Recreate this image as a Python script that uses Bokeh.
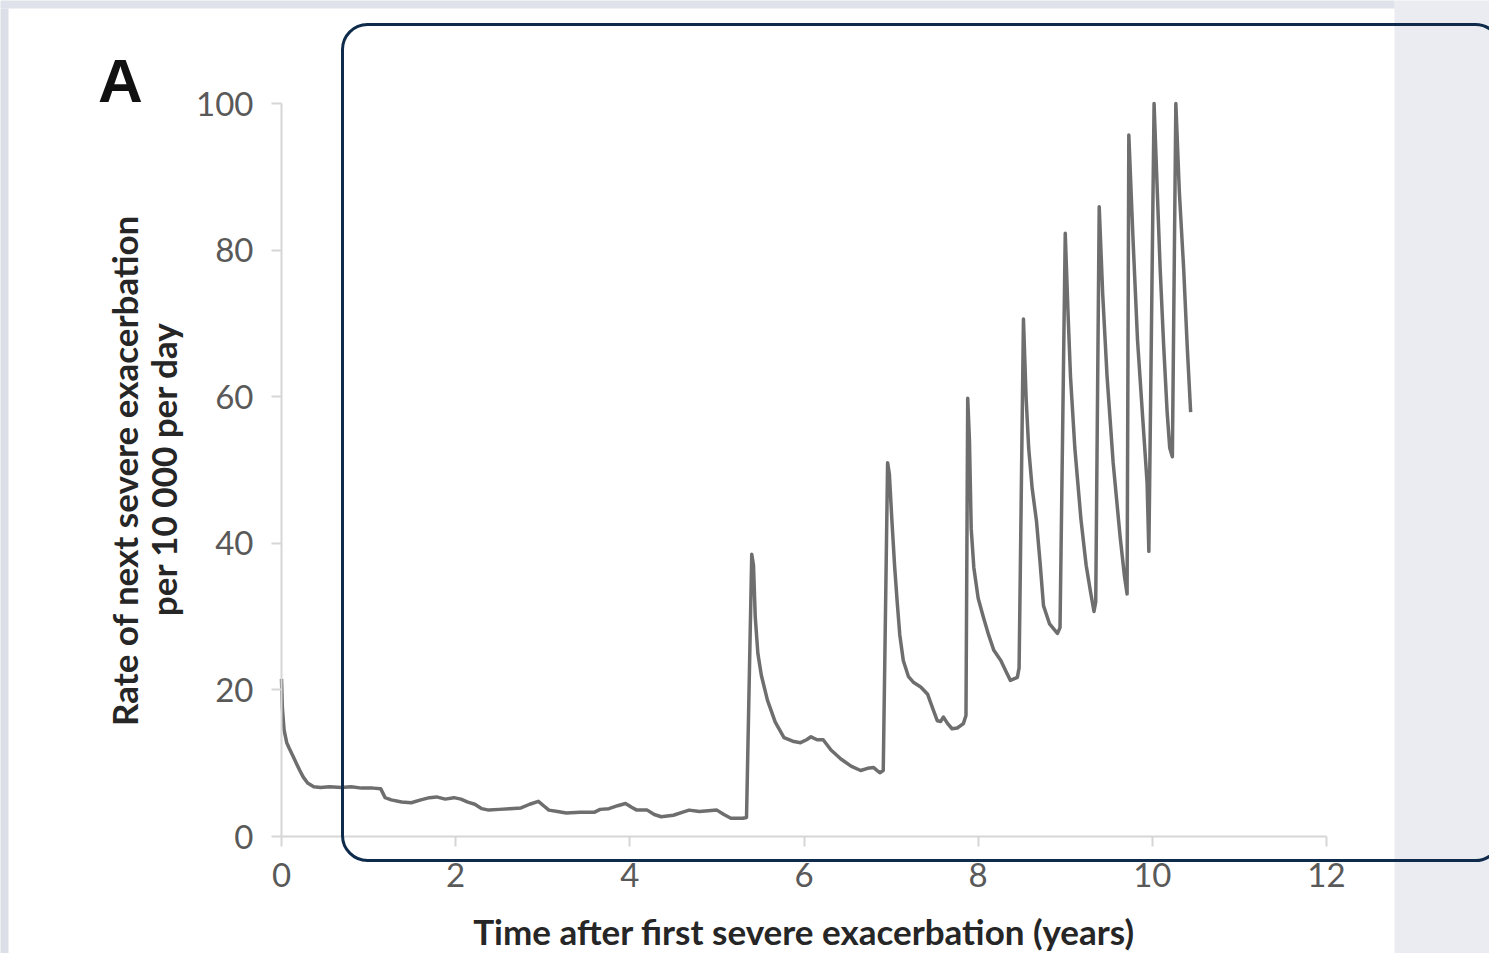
from bokeh.plotting import figure
from bokeh.models import Range1d, FixedTicker, Label, BoxAnnotation
from bokeh.embed import file_html
from bokeh.resources import INLINE
import math

# ---- data ----
years = [
    0.00, 0.01, 0.03, 0.06, 0.09, 0.13, 0.17, 0.21, 0.25, 0.30, 0.37, 0.45, 0.55, 0.69, 0.80, 0.92,
    1.05, 1.14, 1.19, 1.26, 1.38, 1.49, 1.60, 1.70, 1.78, 1.88, 1.98, 2.06, 2.14, 2.22, 2.30, 2.38,
    2.50, 2.62, 2.75, 2.85, 2.95, 3.01, 3.07, 3.17, 3.27, 3.43, 3.59, 3.66, 3.76, 3.86, 3.95, 4.02,
    4.08, 4.20, 4.28, 4.36, 4.50, 4.60, 4.68, 4.80, 4.90, 5.00, 5.08, 5.16, 5.30, 5.34,
    5.40, 5.42, 5.44, 5.47, 5.51, 5.58, 5.67, 5.77, 5.87, 5.96, 6.03, 6.08, 6.15, 6.22, 6.31, 6.42,
    6.54, 6.65, 6.73, 6.80, 6.87, 6.91,
    6.96, 6.98, 7.01, 7.04, 7.07, 7.10, 7.14, 7.20, 7.26, 7.34, 7.42, 7.48, 7.53, 7.57, 7.60, 7.65,
    7.70, 7.76, 7.83, 7.86,
    7.88, 7.90, 7.92, 7.95, 8.00, 8.06, 8.12, 8.18, 8.26, 8.32, 8.37, 8.45, 8.47,
    8.52, 8.55, 8.58, 8.62, 8.67, 8.71, 8.75, 8.82, 8.91, 8.94,
    9.00, 9.03, 9.06, 9.11, 9.18, 9.24, 9.29, 9.33, 9.35,
    9.39, 9.43, 9.48, 9.55, 9.63, 9.68, 9.71,
    9.73, 9.78, 9.83, 9.89, 9.94, 9.96,
    10.02, 10.06, 10.09, 10.13, 10.17, 10.20, 10.23,
    10.27, 10.31, 10.36, 10.40, 10.44,
]
rate = [
    21.5, 17.5, 14.5, 12.8, 12.0, 11.0, 10.0, 9.0, 8.1, 7.3, 6.8, 6.7, 6.8, 6.7, 6.8, 6.6,
    6.6, 6.5, 5.3, 5.0, 4.7, 4.6, 5.0, 5.3, 5.4, 5.1, 5.3, 5.1, 4.7, 4.4, 3.8, 3.6,
    3.7, 3.8, 3.9, 4.4, 4.8, 4.2, 3.6, 3.4, 3.2, 3.3, 3.3, 3.7, 3.8, 4.2, 4.5, 4.0,
    3.6, 3.6, 3.0, 2.7, 2.9, 3.3, 3.6, 3.4, 3.5, 3.6, 3.0, 2.5, 2.5, 2.6,
    38.5, 37.0, 30.0, 25.0, 22.0, 18.6, 15.6, 13.5, 13.0, 12.8, 13.2, 13.6, 13.2, 13.2, 11.8, 10.6,
    9.6, 9.0, 9.3, 9.4, 8.7, 9.0,
    51.0, 49.5, 43.0, 37.0, 32.0, 27.5, 24.0, 21.8, 21.0, 20.4, 19.4, 17.4, 15.8, 15.7, 16.3, 15.4,
    14.7, 14.8, 15.4, 16.5,
    59.8, 54.0, 42.0, 36.7, 32.5, 29.9, 27.5, 25.4, 24.0, 22.5, 21.3, 21.7, 23.0,
    70.6, 60.0, 53.0, 47.5, 43.0, 37.5, 31.5, 29.0, 27.7, 28.5,
    82.3, 72.0, 62.8, 53.0, 43.3, 37.0, 33.4, 30.7, 32.0,
    85.9, 74.0, 62.8, 51.0, 40.9, 35.5, 33.1,
    95.7, 81.0, 67.7, 57.0, 48.2, 38.9,
    100.0, 87.0, 77.4, 67.0, 57.9, 53.0, 51.8,
    100.0, 88.0, 77.4, 67.0, 57.9,
]
x_ticks = [0, 2, 4, 6, 8, 10, 12]
y_ticks = [0, 20, 40, 60, 80, 100]
x_title = "Time after first severe exacerbation (years)"
y_title_1 = "Rate of next severe exacerbation"
y_title_2 = "per 10 000 per day"
panel_letter = "A"

FONT = "Lato"

# canvas geometry (pixels) -> data ranges so that the axes sit where the reference has them
W, H = 1489, 953
AX_L, AX_R, AX_T, AX_B = 281.0, 1326.0, 103.0, 836.0
XMAX, YMAX = 12.0, 100.0
sx = XMAX / (AX_R - AX_L)
sy = YMAX / (AX_B - AX_T)


def dx(px):
    return (px - AX_L) * sx


def dy(py):
    return (AX_B - py) * sy


p = figure(width=W, height=H, output_backend="svg", toolbar_location=None,
           x_range=Range1d(dx(0), dx(W)), y_range=Range1d(dy(H), dy(0)),
           min_border=0, min_border_left=0, min_border_right=0,
           min_border_top=0, min_border_bottom=0)
p.outline_line_color = None
p.grid.visible = False
p.background_fill_color = "white"
p.border_fill_color = "white"

# page background strips
p.add_layout(BoxAnnotation(left=dx(1394), right=dx(W + 50), bottom=dy(H + 50), top=dy(-50),
                           fill_color="#ebecf1", fill_alpha=1, line_alpha=0, level="underlay"))
p.add_layout(BoxAnnotation(left=dx(-50), right=dx(1394), bottom=dy(8), top=dy(-50),
                           fill_color="#dfe2ea", fill_alpha=1, line_alpha=0, level="underlay"))
p.add_layout(BoxAnnotation(left=dx(-50), right=dx(8), bottom=dy(H + 50), top=dy(8),
                           fill_color="#dcdfe8", fill_alpha=1, line_alpha=0, level="underlay"))

for ax, ticks, bnd in ((p.xaxis[0], x_ticks, (0, XMAX)), (p.yaxis[0], y_ticks, (0, YMAX))):
    ax.ticker = FixedTicker(ticks=ticks)
    ax.fixed_location = 0
    ax.bounds = bnd
    ax.axis_line_color = "#d6d6d6"
    ax.axis_line_width = 2
    ax.major_tick_line_color = "#d6d6d6"
    ax.major_tick_line_width = 2
    ax.major_tick_out = 10
    ax.major_tick_in = 0
    ax.minor_tick_line_color = None
    ax.major_label_text_font = FONT
    ax.major_label_text_font_size = "33px"
    ax.major_label_text_color = "#595959"
p.xaxis.major_label_standoff = 16
p.yaxis.major_label_standoff = 18

p.line(years, rate, line_color="#6e6e6e", line_width=3.5, line_join="round")

# titles
TITLE_SIZE = "35px"
p.add_layout(Label(x=dx(803.5), y=dy(930), text=x_title, text_font=FONT, text_font_style="bold",
                   text_font_size=TITLE_SIZE, text_color="#262626",
                   text_align="center", text_baseline="middle"))
p.add_layout(Label(x=dx(123), y=dy(470), text=y_title_1, text_font=FONT, text_font_style="bold",
                   text_font_size=TITLE_SIZE, text_color="#262626", angle=math.pi / 2,
                   text_align="center", text_baseline="middle"))
p.add_layout(Label(x=dx(162), y=dy(468.5), text=y_title_2, text_font=FONT, text_font_style="bold",
                   text_font_size=TITLE_SIZE, text_color="#262626", angle=math.pi / 2,
                   text_align="center", text_baseline="middle"))
p.add_layout(Label(x=dx(120), y=dy(80), text=panel_letter, text_font="Liberation Sans",
                   text_font_style="bold", text_font_size="62px", text_color="#111111",
                   text_align="center", text_baseline="middle"))

# rounded highlight frame
p.add_layout(BoxAnnotation(left=dx(342), right=dx(1500), top=dy(24), bottom=dy(860),
                           fill_alpha=0, line_color="#0e2b4b", line_alpha=1, line_width=3,
                           border_radius=25))

open("out.html", "w").write(file_html(p, INLINE))
